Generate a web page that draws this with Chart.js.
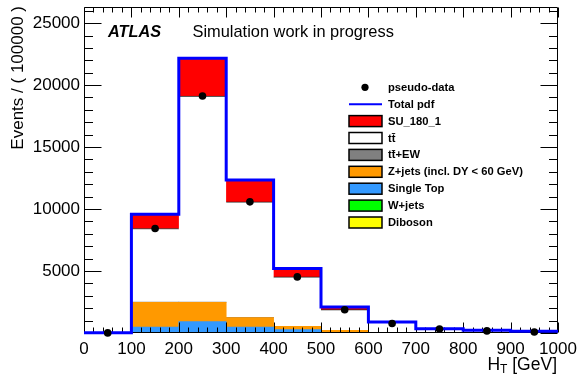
<!DOCTYPE html>
<html>
<head>
<meta charset="utf-8">
<script src="https://cdn.jsdelivr.net/npm/chart.js@4/dist/chart.umd.min.js"></script>
<style>
  html, body { margin: 0; padding: 0; background: #fff; }
  #wrap { width: 578px; height: 374px; position: relative; }
</style>
</head>
<body>
<div id="wrap"><canvas id="c" width="578" height="374"></canvas></div>
<script>
// H_T bin edges [GeV]
const binEdges = [0, 100, 200, 300, 400, 500, 600, 700, 800, 900, 1000];

// Expected events per bin, one array per process (stack order: bottom -> top)
const diboson   = [0,    3,    10,    5,    2,    1,   0,   0,   0,   0];
const wjets     = [0,   10,    40,   10,    5,    2,   0,   0,   0,   0];
const singleTop = [0,  470,   870,  470,  270,   60,  10,   3,   1,   0];
const zjets     = [0, 1995,  1560,  760,  260,  155,  40,   7,   4,   0];
const ttbarEW   = [0,   10,    20,   15,   10,    5,   3,   2,   1,   1];
const ttbar     = [20, 5940, 16620, 9325, 3975, 1667, 807, 331, 209, 134];
const signal    = [0, 1160,  3050, 1750,  675,  210,  30,   8,   3,   2];

// Pseudo-data counts per bin
const pseudoData = [10, 8430, 19120, 10580, 4525, 1870, 770, 320, 170, 80];

// Y-axis tick values
const yTickValues = [5000, 10000, 15000, 20000, 25000];

const FONT = "'Liberation Sans', Arial, Helvetica, sans-serif";

const centers = binEdges.slice(0, -1).map((lo, i) => (lo + binEdges[i + 1]) / 2);
const asPoints = arr => arr.map((v, i) => ({ x: centers[i], y: v }));

const processes = [
  { label: 'Diboson', data: diboson, color: '#ffff00' },
  { label: 'W+jets', data: wjets, color: '#00ff00' },
  { label: 'Single Top', data: singleTop, color: '#3399ff' },
  { label: 'Z+jets (incl. DY < 60 GeV)', data: zjets, color: '#ff9900' },
  { label: 't\u0074\u0304+EW', data: ttbarEW, color: '#808080' },
  { label: 't\u0074\u0304', data: ttbar, color: '#ffffff', edge: true },
  { label: 'SU_180_1', data: signal, color: '#ff0000' }
];

// Total pdf = sum of all stacked processes
const totalPdf = centers.map((_, i) => processes.reduce((s, p) => s + p.data[i], 0));
const totalSteps = binEdges.slice(0, -1).map((x, i) => ({ x, y: totalPdf[i] }));
totalSteps.push({ x: binEdges[binEdges.length - 1], y: totalPdf[totalPdf.length - 1] });

const barSets = processes.map(p => ({
  type: 'bar',
  label: p.label,
  data: asPoints(p.data),
  backgroundColor: p.color,
  borderColor: '#222',
  borderWidth: p.edge ? { top: 1, left: 0, right: 0, bottom: 0 } : 0,
  borderSkipped: 'start',
  barPercentage: 1.0,
  categoryPercentage: 1.0,
  stack: 'bkg'
}));

const datasets = [
  {
    type: 'line', label: 'pseudo-data', data: asPoints(pseudoData),
    showLine: false, pointRadius: 3.8, pointBackgroundColor: '#000',
    pointBorderWidth: 0, stack: 'data', clip: false
  },
  {
    type: 'line', label: 'Total pdf', data: totalSteps, stepped: 'before',
    borderColor: '#0000ff', borderWidth: 3, pointRadius: 0, fill: false,
    stack: 'total', clip: false
  },
  ...barSets
];

// Frame with inward ticks on all four sides (drawn right after the stacked bars)
const framePlugin = {
  id: 'frameTicks',
  afterDatasetDraw(chart, args) {
    if (args.index !== 2) return;
    const ctx = chart.ctx, ca = chart.chartArea;
    const xs = chart.scales.x, ys = chart.scales.y;
    const L = Math.round(ca.left) + 0.5, R = Math.round(ca.right) - 0.5;
    const T = Math.round(ca.top) + 0.5, B = Math.round(ca.bottom) - 0.5;
    ctx.save();
    ctx.strokeStyle = '#000';
    ctx.lineWidth = 1;
    ctx.beginPath();
    ctx.rect(L, T, R - L, B - T);
    for (let v = xs.min; v <= xs.max; v += 20) {
      const px = Math.round(xs.getPixelForValue(v)) + 0.5;
      const len = (v % 100 === 0) ? 10 : 5;
      ctx.moveTo(px, B); ctx.lineTo(px, B - len);
      ctx.moveTo(px, T); ctx.lineTo(px, T + len);
    }
    for (let v = 0; v <= ys.max; v += 1000) {
      const py = Math.round(ys.getPixelForValue(v)) + 0.5;
      const len = (v % 5000 === 0) ? 17 : 8.5;
      ctx.moveTo(L, py); ctx.lineTo(L + len, py);
      ctx.moveTo(R, py); ctx.lineTo(R - len, py);
    }
    ctx.stroke();
    ctx.restore();
  }
};

// Labels, axis titles and legend box
const annotatePlugin = {
  id: 'annotate',
  afterDraw(chart) {
    const ctx = chart.ctx, ca = chart.chartArea;
    ctx.save();
    ctx.fillStyle = '#000';
    ctx.textBaseline = 'alphabetic';

    ctx.font = `italic bold 16.3px ${FONT}`;
    ctx.textAlign = 'left';
    ctx.fillText('ATLAS', 108, 36.5);
    ctx.font = `16.4px ${FONT}`;
    ctx.fillText('Simulation work in progress', 192.5, 36.5);

    // y-axis title, aligned to the top of the axis
    ctx.save();
    ctx.translate(18, ca.top - 1);
    ctx.rotate(-Math.PI / 2);
    ctx.font = `17px ${FONT}`;
    ctx.textAlign = 'right';
    ctx.textBaseline = 'middle';
    ctx.fillText('Events / ( 100000 )', 0, 0);
    ctx.restore();

    // x-axis title H_T [GeV], aligned to the right end of the axis
    const fMain = `17.5px ${FONT}`, fSub = `12px ${FONT}`;
    ctx.font = fMain; const wH = ctx.measureText('H').width;
    const wRest = ctx.measureText(' [GeV]').width;
    ctx.font = fSub; const wT = ctx.measureText('T').width;
    let x0 = ca.right - 1 - (wH + wT + wRest);
    const base = 370;
    ctx.textAlign = 'left';
    ctx.font = fMain; ctx.fillText('H', x0, base);
    ctx.font = fSub; ctx.fillText('T', x0 + wH, base + 3);
    ctx.font = fMain; ctx.fillText(' [GeV]', x0 + wH + wT, base);

    // legend
    const rowY0 = 87.3, dy = 16.9;
    const bx0 = 349, bx1 = 382, tx = 388;
    ctx.font = `bold 11.2px ${FONT}`;
    ctx.textBaseline = 'middle';
    const rows = [
      { label: 'pseudo-data', kind: 'marker' },
      { label: 'Total pdf', kind: 'line' },
      ...processes.slice().reverse().map(p => ({ label: p.label, kind: 'box', color: p.color }))
    ];
    rows.forEach((r, i) => {
      const y = rowY0 + i * dy;
      if (r.kind === 'marker') {
        ctx.beginPath();
        ctx.arc((bx0 + bx1) / 2 - 0.5, y, 3.6, 0, Math.PI * 2);
        ctx.fillStyle = '#000';
        ctx.fill();
      } else if (r.kind === 'line') {
        ctx.beginPath();
        ctx.moveTo(bx0, y); ctx.lineTo(bx1, y);
        ctx.strokeStyle = '#0000ff';
        ctx.lineWidth = 2;
        ctx.stroke();
      } else {
        ctx.fillStyle = r.color;
        ctx.fillRect(bx0, y - 5.5, bx1 - bx0, 11);
        ctx.strokeStyle = '#000';
        ctx.lineWidth = 1.5;
        ctx.strokeRect(bx0, y - 5.5, bx1 - bx0, 11);
      }
      ctx.fillStyle = '#000';
      ctx.textAlign = 'left';
      ctx.fillText(r.label, tx, y + 0.5);
    });
    ctx.restore();
  }
};

new Chart(document.getElementById('c'), {
  type: 'bar',
  data: { datasets },
  options: {
    responsive: false,
    animation: false,
    devicePixelRatio: 1,
    layout: { padding: { left: 0, right: 20, top: 7, bottom: 0 } },
    plugins: { legend: { display: false }, tooltip: { enabled: false } },
    scales: {
      x: {
        type: 'linear', min: binEdges[0], max: binEdges[binEdges.length - 1],
        stacked: true, offset: false,
        grid: { display: false, drawTicks: false },
        border: { display: false },
        ticks: {
          stepSize: 100, autoSkip: false, maxRotation: 0, includeBounds: false,
          padding: 6, color: '#000', font: { family: FONT, size: 17 },
          callback: v => String(v)
        },
        afterFit(s) { s.height = 41; s.paddingLeft = 0; s.paddingRight = 0; }
      },
      y: {
        type: 'linear', min: 0, max: 26300, stacked: true,
        grid: { display: false, drawTicks: false },
        border: { display: false },
        afterBuildTicks(s) { s.ticks = yTickValues.map(v => ({ value: v })); },
        ticks: {
          padding: 4, color: '#000', font: { family: FONT, size: 17 },
          callback: v => String(v)
        },
        afterFit(s) { s.width = 84; s.paddingTop = 0; s.paddingBottom = 0; }
      }
    }
  },
  plugins: [framePlugin, annotatePlugin]
});
</script>
</body>
</html>
